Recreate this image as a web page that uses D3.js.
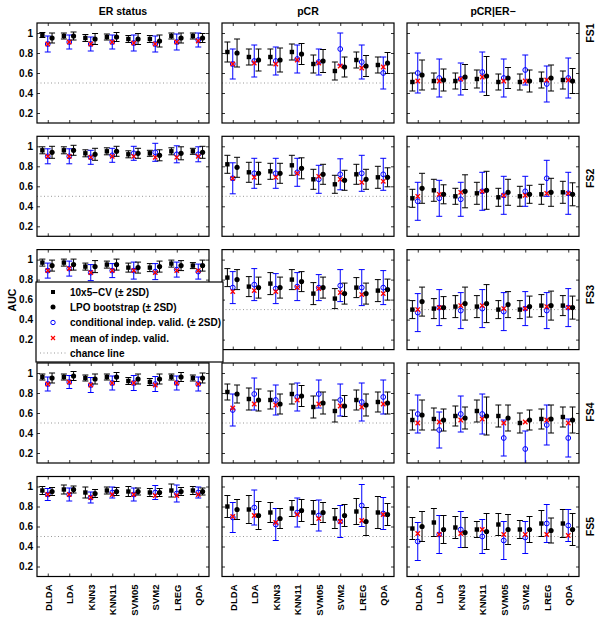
<!DOCTYPE html>
<html><head><meta charset="utf-8">
<script src="https://cdn.jsdelivr.net/npm/d3@7"></script>
<style>body{margin:0;background:#fff}svg{display:block;font-family:"Liberation Sans",Arial,sans-serif;font-weight:bold}</style>
</head><body><svg id="c" width="600" height="621"></svg>
<script>
const classifiers = ["DLDA","LDA","KNN3","KNN11","SVM05","SVM2","LREG","QDA"];
const outcomes = ["ER status","pCR","pCR|ER\u2212"];
const featureSets = ["FS1","FS2","FS3","FS4","FS5"];
const yTicks = [0.2,0.4,0.6,0.8,1];
const chance = 0.5;

// [featureSet][outcome][classifier]
const cvMean = [
 [[0.98,0.97,0.95,0.96,0.94,0.94,0.97,0.97],[0.81,0.76,0.76,0.81,0.69,0.62,0.73,0.68],[0.51,0.52,0.52,0.54,0.51,0.51,0.53,0.53]],
 [[0.96,0.96,0.93,0.95,0.92,0.93,0.95,0.95],[0.82,0.74,0.75,0.81,0.67,0.62,0.72,0.69],[0.48,0.56,0.50,0.53,0.49,0.50,0.52,0.54]],
 [[0.97,0.97,0.93,0.95,0.92,0.92,0.96,0.94],[0.82,0.73,0.76,0.80,0.66,0.61,0.72,0.69],[0.50,0.51,0.53,0.53,0.50,0.50,0.54,0.54]],
 [[0.96,0.96,0.95,0.96,0.92,0.91,0.96,0.95],[0.81,0.74,0.73,0.79,0.66,0.62,0.73,0.71],[0.53,0.54,0.57,0.62,0.57,0.50,0.54,0.56]],
 [[0.96,0.97,0.94,0.96,0.95,0.94,0.96,0.96],[0.80,0.77,0.74,0.78,0.74,0.68,0.75,0.74],[0.58,0.64,0.59,0.57,0.62,0.57,0.63,0.63]]
];
const cvErr = [
 [[0.025,0.03,0.035,0.03,0.035,0.035,0.03,0.03],[0.10,0.08,0.08,0.08,0.09,0.09,0.08,0.08],[0.09,0.08,0.08,0.09,0.08,0.08,0.08,0.09]],
 [[0.035,0.035,0.035,0.035,0.035,0.03,0.035,0.03],[0.09,0.10,0.08,0.10,0.10,0.09,0.10,0.11],[0.09,0.11,0.08,0.11,0.09,0.10,0.10,0.11]],
 [[0.035,0.035,0.035,0.035,0.045,0.04,0.035,0.03],[0.09,0.10,0.11,0.10,0.11,0.10,0.10,0.11],[0.09,0.10,0.11,0.11,0.09,0.09,0.11,0.10]],
 [[0.03,0.03,0.03,0.03,0.035,0.035,0.03,0.03],[0.08,0.11,0.09,0.10,0.11,0.11,0.10,0.10],[0.10,0.11,0.10,0.11,0.11,0.10,0.10,0.10]],
 [[0.04,0.045,0.055,0.035,0.05,0.04,0.065,0.04],[0.11,0.14,0.10,0.08,0.12,0.10,0.13,0.16],[0.11,0.14,0.11,0.08,0.11,0.09,0.13,0.14]]
];
const ivMean = [
 [[0.89,0.91,0.89,0.91,0.90,0.89,0.91,0.93],[0.69,0.72,0.72,0.74,0.71,0.84,0.71,0.60],[0.60,0.55,0.54,0.61,0.55,0.63,0.49,0.55]],
 [[0.90,0.90,0.89,0.91,0.93,0.94,0.92,0.92],[0.68,0.73,0.73,0.74,0.67,0.72,0.73,0.72],[0.45,0.48,0.47,0.55,0.51,0.55,0.68,0.53]],
 [[0.89,0.91,0.87,0.89,0.89,0.88,0.90,0.88],[0.72,0.75,0.71,0.73,0.72,0.74,0.72,0.72],[0.47,0.52,0.49,0.51,0.48,0.51,0.49,0.52]],
 [[0.89,0.91,0.88,0.90,0.90,0.89,0.90,0.89],[0.63,0.79,0.73,0.76,0.79,0.73,0.71,0.76],[0.59,0.43,0.59,0.59,0.35,0.24,0.48,0.35]],
 [[0.92,0.92,0.89,0.94,0.92,0.94,0.93,0.94],[0.69,0.79,0.62,0.74,0.71,0.65,0.81,0.73],[0.45,0.52,0.57,0.50,0.46,0.49,0.63,0.61]]
];
const ivErr = [
 [[0.08,0.07,0.07,0.07,0.08,0.08,0.08,0.07],[0.15,0.16,0.14,0.14,0.13,0.16,0.17,0.16],[0.20,0.19,0.16,0.20,0.19,0.15,0.18,0.20]],
 [[0.075,0.075,0.07,0.07,0.07,0.09,0.085,0.075],[0.155,0.15,0.15,0.14,0.14,0.155,0.18,0.16],[0.19,0.18,0.17,0.19,0.19,0.15,0.18,0.21]],
 [[0.075,0.075,0.08,0.07,0.085,0.08,0.075,0.075],[0.16,0.16,0.15,0.14,0.13,0.16,0.18,0.17],[0.19,0.18,0.18,0.19,0.19,0.17,0.18,0.19]],
 [[0.07,0.065,0.075,0.07,0.075,0.075,0.07,0.07],[0.16,0.16,0.15,0.14,0.14,0.16,0.19,0.17],[0.19,0.18,0.18,0.20,0.18,0.18,0.20,0.19]],
 [[0.06,0.065,0.055,0.055,0.065,0.07,0.085,0.055],[0.15,0.175,0.16,0.145,0.155,0.16,0.21,0.16],[0.19,0.19,0.18,0.17,0.19,0.16,0.19,0.16]]
];
const ivMeanAll = [
 [[0.89,0.91,0.89,0.91,0.90,0.89,0.91,0.92],[0.69,0.70,0.69,0.73,0.70,0.67,0.65,0.66],[0.52,0.52,0.54,0.56,0.52,0.52,0.53,0.53]],
 [[0.90,0.90,0.89,0.90,0.90,0.89,0.89,0.90],[0.68,0.69,0.69,0.73,0.70,0.67,0.64,0.65],[0.50,0.52,0.54,0.55,0.51,0.51,0.53,0.53]],
 [[0.89,0.91,0.87,0.89,0.89,0.87,0.89,0.89],[0.68,0.69,0.68,0.72,0.71,0.67,0.65,0.66],[0.50,0.52,0.54,0.54,0.51,0.51,0.53,0.52]],
 [[0.89,0.91,0.88,0.90,0.90,0.88,0.90,0.89],[0.65,0.69,0.68,0.73,0.69,0.67,0.66,0.69],[0.50,0.51,0.53,0.54,0.50,0.51,0.53,0.50]],
 [[0.92,0.92,0.89,0.92,0.92,0.91,0.91,0.92],[0.70,0.71,0.64,0.72,0.68,0.65,0.66,0.72],[0.53,0.52,0.53,0.57,0.52,0.52,0.52,0.51]]
];
const lpoMean = [
 [[0.95,0.97,0.94,0.96,0.94,0.92,0.95,0.95],[0.80,0.73,0.73,0.79,0.72,0.66,0.67,0.70],[0.58,0.53,0.56,0.57,0.55,0.52,0.55,0.52]],
 [[0.94,0.96,0.92,0.95,0.93,0.91,0.93,0.94],[0.79,0.73,0.73,0.78,0.72,0.66,0.67,0.69],[0.58,0.52,0.55,0.56,0.54,0.52,0.54,0.52]],
 [[0.94,0.95,0.93,0.95,0.92,0.93,0.94,0.94],[0.80,0.72,0.72,0.78,0.72,0.66,0.66,0.70],[0.58,0.52,0.56,0.56,0.55,0.53,0.54,0.52]],
 [[0.95,0.97,0.94,0.96,0.94,0.94,0.96,0.95],[0.79,0.73,0.69,0.77,0.70,0.67,0.68,0.70],[0.58,0.53,0.55,0.57,0.55,0.53,0.54,0.53]],
 [[0.95,0.97,0.93,0.95,0.95,0.94,0.95,0.95],[0.77,0.71,0.68,0.76,0.74,0.71,0.65,0.72],[0.60,0.57,0.54,0.55,0.57,0.57,0.56,0.57]]
];
const lpoErr = [
 [[0.05,0.04,0.055,0.045,0.055,0.06,0.05,0.045],[0.14,0.11,0.12,0.105,0.115,0.10,0.105,0.105],[0.15,0.11,0.125,0.195,0.105,0.11,0.13,0.125]],
 [[0.06,0.05,0.06,0.05,0.05,0.055,0.065,0.06],[0.10,0.11,0.10,0.105,0.10,0.10,0.10,0.095],[0.15,0.095,0.165,0.19,0.13,0.09,0.14,0.115]],
 [[0.055,0.055,0.06,0.055,0.055,0.055,0.05,0.055],[0.10,0.105,0.105,0.10,0.105,0.105,0.105,0.105],[0.145,0.11,0.165,0.19,0.13,0.105,0.145,0.115]],
 [[0.05,0.045,0.05,0.045,0.05,0.05,0.045,0.05],[0.09,0.11,0.10,0.105,0.11,0.105,0.11,0.11],[0.15,0.11,0.11,0.19,0.13,0.10,0.14,0.13]],
 [[0.04,0.035,0.04,0.04,0.035,0.04,0.04,0.035],[0.10,0.14,0.10,0.11,0.10,0.11,0.14,0.11],[0.15,0.14,0.15,0.18,0.15,0.13,0.125,0.16]]
];
const legendLabels = ["10x5\u2212CV (\u00b1 2SD)","LPO bootstrap (\u00b1 2SD)","conditional indep. valid. (\u00b1 2SD)","mean of indep. valid.","chance line"];

const svg = d3.select("#c");
const colX = [37, 222, 407], rowY = [23, 136.3, 249.6, 363, 476.5];
const fsLabelOffset = [10, 42, 45, 49, 50];
const PW = 172, PH = 100;
const BLUE = "#0000ff", RED = "#ff0000";

function errbar(g, xs, ys, cx, m, e, color) {
  const y1 = ys(m - e), y2 = ys(m + e);
  g.append("line").attr("x1", cx).attr("x2", cx).attr("y1", y1).attr("y2", y2).attr("stroke", color).attr("stroke-width", 1);
  [y1, y2].forEach(y => g.append("line").attr("x1", cx - 3).attr("x2", cx + 3).attr("y1", y).attr("y2", y).attr("stroke", color).attr("stroke-width", 1));
}

featureSets.forEach((fs, r) => {
  outcomes.forEach((oc, c) => {
    const x0 = colX[c], y0 = rowY[r];
    const xs = d3.scaleLinear().domain([0.5, 8.5]).range([x0, x0 + PW]);
    const ys = d3.scaleLinear().domain([0.1, 1.1]).range([y0 + PH, y0]);
    const id = "clip" + r + c;
    svg.append("clipPath").attr("id", id).append("rect").attr("x", x0).attr("y", y0).attr("width", PW).attr("height", PH);
    const g = svg.append("g");
    g.append("rect").attr("x", x0).attr("y", y0).attr("width", PW).attr("height", PH).attr("fill", "#fff");
    const ticksX = d3.range(1, 9);
    const ax = [
      d3.axisBottom(xs).tickValues(ticksX).tickSize(-3).tickFormat(""),
      d3.axisTop(xs).tickValues(ticksX).tickSize(-3).tickFormat(""),
      d3.axisLeft(ys).tickValues(yTicks).tickSize(-3).tickFormat(""),
      d3.axisRight(ys).tickValues(yTicks).tickSize(-3).tickFormat("")
    ];
    g.append("g").attr("transform", `translate(0,${y0 + PH})`).call(ax[0]);
    g.append("g").attr("transform", `translate(0,${y0})`).call(ax[1]);
    g.append("g").attr("transform", `translate(${x0},0)`).call(ax[2]);
    g.append("g").attr("transform", `translate(${x0 + PW},0)`).call(ax[3]);
    g.selectAll(".domain").remove();
    g.selectAll(".tick line").attr("stroke", "#000").attr("stroke-width", 0.8);
    if (c === 0) {
      const la = d3.axisLeft(ys).tickValues(yTicks).tickSize(0).tickPadding(4).tickFormat(d => d === 1 ? "1" : d3.format(".1f")(d));
      const lg = g.append("g").attr("transform", `translate(${x0},0)`).call(la);
      lg.select(".domain").remove();
      lg.selectAll("text").attr("font-size", 10).attr("font-weight", "bold").attr("font-family", "Liberation Sans, Arial, sans-serif").attr("fill", "#000");
    }
    if (r === 4) {
      const ba = d3.axisBottom(xs).tickValues(ticksX).tickSize(0).tickFormat(i => classifiers[i - 1]);
      const bg = g.append("g").attr("transform", `translate(0,${y0 + PH})`).call(ba);
      bg.select(".domain").remove();
      bg.selectAll("text").attr("font-size", 9.5).attr("font-weight", "bold").attr("font-family", "Liberation Sans, Arial, sans-serif").attr("fill", "#000")
        .attr("text-anchor", "end").attr("transform", "translate(0,8) rotate(-90)").attr("x", 0).attr("y", 0).attr("dy", "0.35em");
    }
    const p = g.append("g").attr("clip-path", `url(#${id})`);
    p.append("line").attr("x1", x0).attr("x2", x0 + PW).attr("y1", ys(chance)).attr("y2", ys(chance))
      .attr("stroke", "#999").attr("stroke-width", 1).attr("stroke-dasharray", "1,2.5");
    classifiers.forEach((cl, k) => {
      const i = k + 1;
      const xa = xs(i - 0.25);
      errbar(p, xs, ys, xa, cvMean[r][c][k], cvErr[r][c][k], "#000");
      p.append("rect").attr("x", xa - 2.2).attr("y", ys(cvMean[r][c][k]) - 2.2).attr("width", 4.4).attr("height", 4.4).attr("fill", "#000");
      const xb = xs(i);
      errbar(p, xs, ys, xb, ivMean[r][c][k], ivErr[r][c][k], BLUE);
      p.append("circle").attr("cx", xb).attr("cy", ys(ivMean[r][c][k])).attr("r", 2.4).attr("fill", "none").attr("stroke", BLUE).attr("stroke-width", 1);
      const ym = ys(ivMeanAll[r][c][k]);
      p.append("path").attr("d", `M${xb - 2.2},${ym - 2.2}L${xb + 2.2},${ym + 2.2}M${xb - 2.2},${ym + 2.2}L${xb + 2.2},${ym - 2.2}`).attr("stroke", RED).attr("stroke-width", 1.3);
      const xc = xs(i + 0.2);
      errbar(p, xs, ys, xc, lpoMean[r][c][k], lpoErr[r][c][k], "#000");
      p.append("circle").attr("cx", xc).attr("cy", ys(lpoMean[r][c][k])).attr("r", 2.6).attr("fill", "#000");
    });
    g.append("rect").attr("x", x0).attr("y", y0).attr("width", PW).attr("height", PH).attr("fill", "none").attr("stroke", "#000").attr("stroke-width", 1.2);
    if (r === 0) {
      svg.append("text").attr("x", x0 + PW / 2).attr("y", 15).attr("text-anchor", "middle").attr("font-size", 10.5).text(oc);
    }
    if (c === 2) {
      const ly = y0 + fsLabelOffset[r];
      svg.append("text").attr("transform", `translate(${x0 + PW + 11},${ly}) rotate(-90)`).attr("text-anchor", "middle").attr("dy", "0.35em").attr("font-size", 10.5).text(fs);
    }
  });
});

svg.append("text").attr("transform", "translate(12,300) rotate(-90)").attr("text-anchor", "middle").attr("dy", "0.35em").attr("font-size", 10.5).text("AUC");

const lg = svg.append("g");
lg.append("rect").attr("x", 36).attr("y", 282).attr("width", 187).attr("height", 80).attr("fill", "#fff").attr("stroke", "#000").attr("stroke-width", 1.2);
const ly = [292, 307, 322.5, 338, 353];
const mx = 53;
lg.append("rect").attr("x", mx - 2).attr("y", ly[0] - 2).attr("width", 4).attr("height", 4).attr("fill", "#000");
lg.append("circle").attr("cx", mx).attr("cy", ly[1]).attr("r", 2.5).attr("fill", "#000");
lg.append("circle").attr("cx", mx).attr("cy", ly[2]).attr("r", 2.2).attr("fill", "none").attr("stroke", BLUE);
lg.append("path").attr("d", `M${mx - 2},${ly[3] - 2}L${mx + 2},${ly[3] + 2}M${mx - 2},${ly[3] + 2}L${mx + 2},${ly[3] - 2}`).attr("stroke", RED).attr("stroke-width", 1.2);
lg.append("line").attr("x1", 40).attr("x2", 66).attr("y1", ly[4]).attr("y2", ly[4]).attr("stroke", "#999").attr("stroke-dasharray", "1,2.5");
legendLabels.forEach((t, i) => lg.append("text").attr("x", 70).attr("y", ly[i]).attr("dy", "0.35em").attr("font-size", 10).text(t));
</script></body></html>
